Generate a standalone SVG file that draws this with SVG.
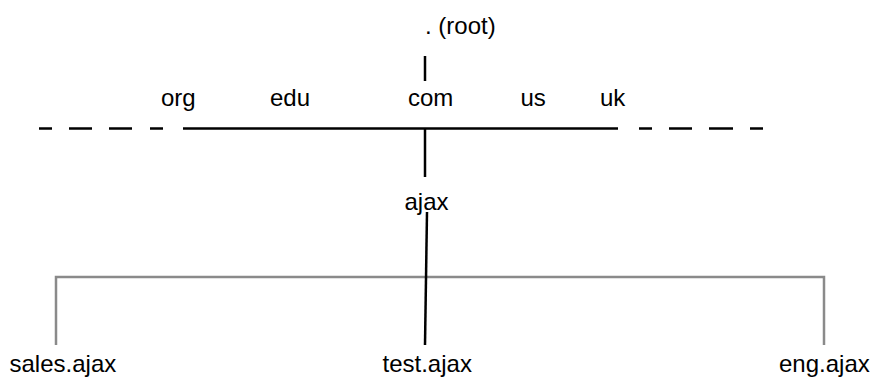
<svg xmlns="http://www.w3.org/2000/svg" width="873" height="378" viewBox="0 0 873 378">
<style>
text{font-family:"Liberation Sans",Arial,sans-serif;font-size:24px;fill:#000}
.k{stroke:#000;stroke-width:2.5;fill:none}
.g{stroke:#8a8a8a;stroke-width:2.5;fill:none}
</style>
<rect width="873" height="378" fill="#fff"/>
<g id="connectors">
<line class="k" x1="425" y1="56" x2="425" y2="81"/>
<line class="k" x1="183" y1="128.5" x2="618" y2="128.5"/>
<line class="k" x1="39" y1="128.5" x2="52" y2="128.5"/>
<line class="k" x1="69" y1="128.5" x2="92" y2="128.5"/>
<line class="k" x1="109" y1="128.5" x2="132" y2="128.5"/>
<line class="k" x1="150" y1="128.5" x2="163" y2="128.5"/>
<line class="k" x1="639" y1="128.5" x2="652" y2="128.5"/>
<line class="k" x1="669" y1="128.5" x2="692" y2="128.5"/>
<line class="k" x1="709" y1="128.5" x2="733" y2="128.5"/>
<line class="k" x1="750" y1="128.5" x2="763" y2="128.5"/>
<line class="k" x1="425" y1="128" x2="425" y2="177"/>
<polyline class="g" points="56,345 56,277 824,277 824,345"/>
<line class="k" x1="427" y1="212" x2="425" y2="345"/>
</g>
<g id="root"><text x="425" y="34">. (root)</text></g>
<g id="org"><text x="161" y="106">org</text></g>
<g id="edu"><text x="270" y="106">edu</text></g>
<g id="com"><text x="408" y="106">com</text></g>
<g id="us"><text x="520.5" y="106">us</text></g>
<g id="uk"><text x="600" y="106">uk</text></g>
<g id="ajax"><text x="404.5" y="210">ajax</text></g>
<g id="sales"><text x="9.5" y="372">sales.ajax</text></g>
<g id="test"><text x="382.5" y="372">test.ajax</text></g>
<g id="eng"><text x="779" y="372">eng.ajax</text></g>
</svg>
